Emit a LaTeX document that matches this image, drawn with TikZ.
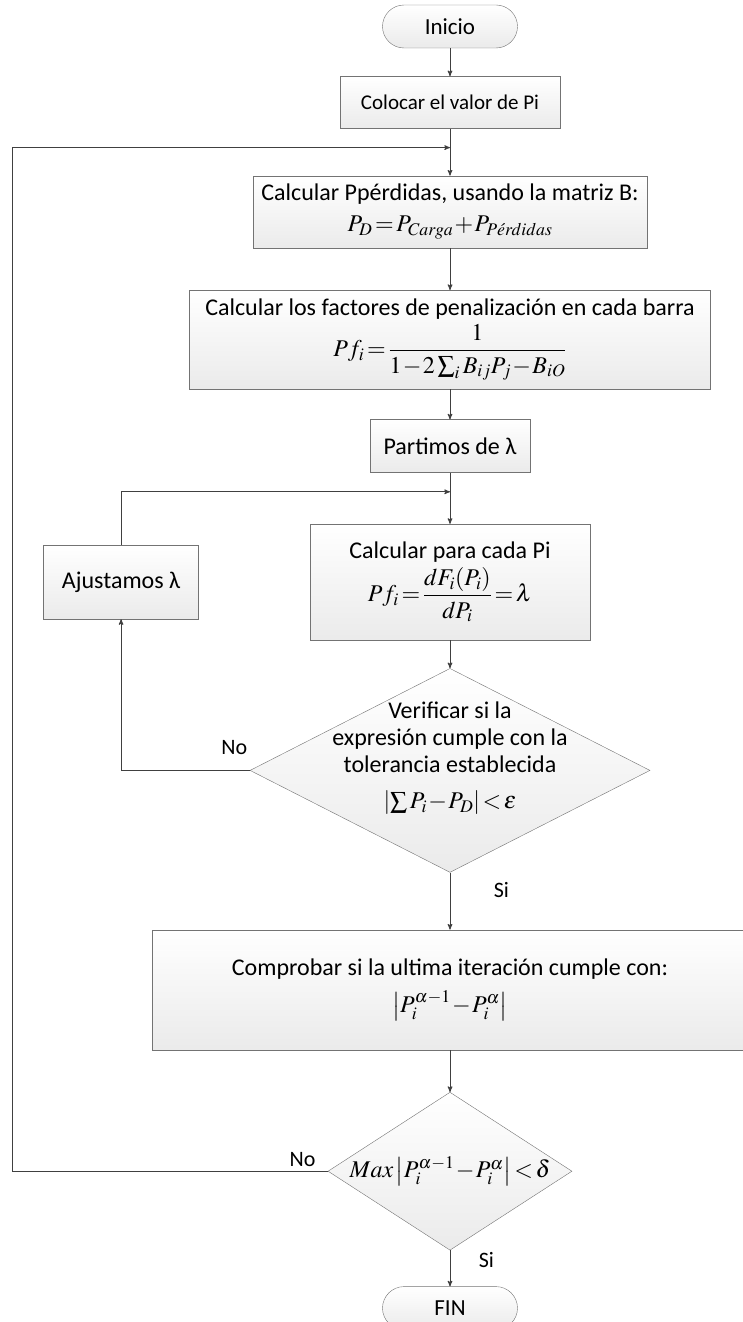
\documentclass[tikz,border=0pt]{standalone}
\usepackage{amssymb,amsmath}
\usepackage{mathptmx}
\usepackage[no-math]{fontspec}
\setmainfont{Carlito}
\usepackage{tikz}
\usetikzlibrary{arrows,calc,positioning,shapes.geometric}
\medmuskip=1mu
\thickmuskip=2mu

\begin{document}
\begin{tikzpicture}[>=stealth',auto,node distance=1cm,align=center,
		font=\fontsize{24}{27}\selectfont,
		box/.style={rectangle,draw=black!55,top color=white,bottom color=black!8,inner sep=0pt},
		term/.style={box,rounded corners=21.5pt,minimum width=135pt,minimum height=43pt,font=\fontsize{23}{27}\selectfont},
		cond/.style={diamond,draw=black!55,top color=white,bottom color=black!8,inner sep=0pt},
		conn/.style={draw=black!75,line width=1pt}]
		\useasboundingbox (0,0) rectangle (742pt,-1322pt);
		\node[term] (s_0) at (450pt,-26.5pt) {Inicio};
		\node[box,minimum width=220pt,minimum height=52pt,font=\fontsize{21}{25}\selectfont] [below=28pt of s_0] (p_1) {Colocar el valor de Pi};
		\node[box,minimum width=394pt,minimum height=72pt] [below=47pt of p_1] (p_2) {Calcular Ppérdidas, usando la matriz B:\\[4pt] $P_D=P_{Carga}+P_{P\acute{e}rdidas}$};
		\node[box,minimum width=521pt,minimum height=99pt] [below=42pt of p_2] (p_3) {Calcular los factores de penalización en cada barra\\[4pt] $Pf_i=\dfrac{1}{1-2\sum_i B_{ij}P_j-B_{iO}}$};
		\node[box,minimum width=160pt,minimum height=53pt] [below=30pt of p_3] (p_4) {Partimos de λ};
		\node[box,minimum width=280pt,minimum height=116pt] [below=51pt of p_4] (p_5) {Calcular para cada Pi\\[4pt] $Pf_i=\dfrac{dF_i(P_i)}{dP_i}=\lambda$};
		\node[box,minimum width=155pt,minimum height=74pt] [left=111pt of p_5] (a_1) {Ajustamos λ};
		\node[cond,minimum width=400pt,minimum height=204pt] [below=28pt of p_5] (d_1) {};
		\node[yshift=12pt] (t_1) at (d_1) {Verificar si la\\ expresión cumple con la\\ tolerancia establecida\\[9pt] $\left|\sum P_i-P_D\right|<\varepsilon$};
		\node[box,minimum width=596pt,minimum height=120pt] [below=57pt of d_1] (p_6) {Comprobar si la ultima iteración cumple con:\\[10pt] $\left|P_i^{\alpha-1}-P_i^{\alpha}\right|$};
		\node[cond,minimum width=244pt,minimum height=158pt] [below=42pt of p_6] (d_2) {};
		\node (t_2) at (d_2) {$Max\left|P_i^{\alpha-1}-P_i^{\alpha}\right|<\delta$};
		\node[term] [below=36pt of d_2] (s_1) {FIN};
		\coordinate[below=19pt of p_1] (j_0);
		\coordinate[below=19pt of p_4] (j_1);
		\coordinate (k_0) at (12pt,0);
		\draw[conn,->] (s_0) -- (p_1);
		\draw[conn,->] (p_1) -- (p_2);
		\draw[conn,->] (p_2) -- (p_3);
		\draw[conn,->] (p_3) -- (p_4);
		\draw[conn,->] (p_4) -- (p_5);
		\draw[conn,->] (p_5) -- (d_1);
		\draw[conn,->] (d_1.west) -| node[pos=0.06,above=12pt,font=\fontsize{22}{26}\selectfont] {No} (a_1);
		\draw[conn,->] (a_1) |- (j_1);
		\draw[conn,->] (d_1) -- node[pos=0.3,right=40pt,font=\fontsize{22}{26}\selectfont] {Si} (p_6);
		\draw[conn,->] (p_6) -- (d_2);
		\draw[conn,->] (d_2.west) -- node[pos=0.08,above=1pt,font=\fontsize{22}{26}\selectfont] {No} (d_2.west -| k_0) |- (j_0);
		\draw[conn,->] (d_2) -- node[pos=0.28,right=25pt,font=\fontsize{22}{26}\selectfont] {Si} (s_1);
	\end{tikzpicture}
\end{document}
